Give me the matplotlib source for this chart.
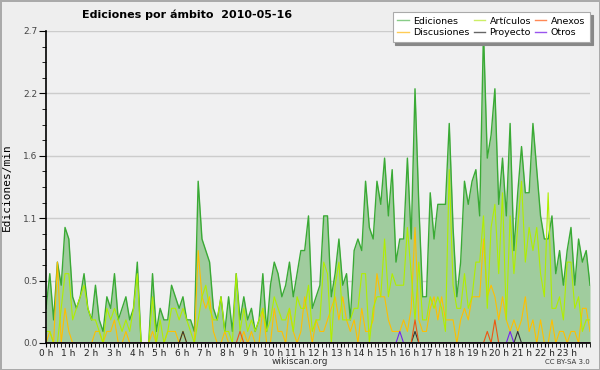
import numpy as np
import matplotlib
matplotlib.use("Agg")
import matplotlib.pyplot as plt
import matplotlib.ticker as mticker

# edits per minute, 10-minute bins (144 per day)
ediciones = [0.3, 0.6, 0.2, 0.7, 0.5, 1.0, 0.9, 0.4, 0.3, 0.4, 0.6, 0.3, 0.2, 0.5, 0.2, 0.1, 0.4, 0.3, 0.6, 0.2, 0.3, 0.4, 0.2, 0.3,
             0.7, 0.0, 0.0, 0.0, 0.6, 0.1, 0.3, 0.2, 0.2, 0.5, 0.4, 0.3, 0.4, 0.2, 0.2, 0.1, 1.4, 0.9, 0.8, 0.7, 0.3, 0.2, 0.4, 0.1,
             0.4, 0.1, 0.6, 0.2, 0.4, 0.2, 0.3, 0.1, 0.2, 0.6, 0.1, 0.5, 0.7, 0.6, 0.4, 0.5, 0.7, 0.4, 0.6, 0.8, 0.8, 1.1, 0.3, 0.4,
             0.5, 1.1, 1.1, 0.4, 0.6, 0.9, 0.5, 0.6, 0.2, 0.8, 0.9, 0.8, 1.4, 1.0, 0.9, 1.4, 1.2, 1.6, 1.1, 1.5, 0.7, 0.9, 0.9, 1.6,
             0.9, 2.2, 1.2, 0.4, 0.4, 1.3, 0.9, 1.2, 1.2, 1.2, 1.9, 1.0, 0.4, 0.7, 1.4, 1.2, 1.4, 1.5, 1.1, 2.7, 1.6, 1.8, 2.2, 1.2,
             1.6, 1.1, 1.9, 0.8, 1.3, 1.7, 1.3, 1.3, 1.9, 1.5, 1.1, 0.9, 0.9, 1.1, 0.6, 0.8, 0.5, 0.8, 1.0, 0.5, 0.9, 0.7, 0.8, 0.5]
articulos = [0.1, 0.1, 0.0, 0.0, 0.3, 0.6, 0.6, 0.2, 0.3, 0.4, 0.5, 0.3, 0.2, 0.2, 0.1, 0.0, 0.3, 0.2, 0.3, 0.2, 0.1, 0.2, 0.1, 0.3,
             0.6, 0.0, 0.0, 0.0, 0.4, 0.0, 0.2, 0.0, 0.1, 0.3, 0.3, 0.2, 0.3, 0.2, 0.1, 0.0, 0.2, 0.4, 0.5, 0.3, 0.2, 0.2, 0.4, 0.1,
             0.1, 0.0, 0.6, 0.1, 0.3, 0.1, 0.2, 0.1, 0.2, 0.3, 0.1, 0.2, 0.4, 0.3, 0.2, 0.2, 0.3, 0.1, 0.4, 0.3, 0.3, 0.5, 0.1, 0.2,
             0.2, 0.7, 0.6, 0.0, 0.5, 0.7, 0.2, 0.2, 0.2, 0.3, 0.3, 0.6, 0.6, 0.0, 0.3, 0.4, 0.4, 0.9, 0.4, 0.6, 0.5, 0.5, 0.5, 1.0,
             0.6, 0.2, 0.7, 0.2, 0.2, 0.4, 0.3, 0.4, 0.3, 0.1, 1.5, 0.5, 0.3, 0.3, 0.6, 0.3, 0.4, 0.7, 0.7, 1.1, 0.3, 1.0, 1.2, 0.6,
             1.3, 0.2, 1.1, 0.6, 1.0, 1.4, 0.7, 1.0, 0.8, 1.0, 0.6, 0.4, 1.3, 0.3, 0.3, 0.4, 0.2, 0.7, 0.7, 0.3, 0.4, 0.1, 0.2, 0.2]
discusiones = [0.0, 0.1, 0.0, 0.7, 0.0, 0.3, 0.1, 0.0, 0.0, 0.0, 0.0, 0.0, 0.0, 0.1, 0.1, 0.0, 0.1, 0.1, 0.2, 0.0, 0.0, 0.1, 0.0, 0.0,
               0.0, 0.0, 0.0, 0.0, 0.1, 0.0, 0.0, 0.0, 0.1, 0.1, 0.1, 0.0, 0.1, 0.0, 0.0, 0.0, 0.8, 0.4, 0.3, 0.4, 0.1, 0.0, 0.0, 0.1,
               0.0, 0.0, 0.0, 0.0, 0.1, 0.0, 0.1, 0.0, 0.0, 0.3, 0.0, 0.0, 0.3, 0.1, 0.1, 0.0, 0.3, 0.1, 0.0, 0.1, 0.4, 0.2, 0.0, 0.2,
               0.1, 0.1, 0.2, 0.3, 0.4, 0.2, 0.4, 0.2, 0.1, 0.2, 0.0, 0.3, 0.1, 0.1, 0.2, 0.6, 0.4, 0.4, 0.2, 0.1, 0.1, 0.1, 0.2, 0.1,
               0.3, 1.0, 0.2, 0.1, 0.1, 0.3, 0.4, 0.2, 0.4, 0.2, 0.2, 0.2, 0.0, 0.2, 0.3, 0.2, 0.4, 0.4, 0.4, 0.9, 0.4, 0.5, 0.4, 0.2,
               0.4, 0.2, 0.1, 0.2, 0.1, 0.2, 0.4, 0.1, 0.2, 0.0, 0.2, 0.0, 0.0, 0.2, 0.0, 0.1, 0.1, 0.0, 0.1, 0.1, 0.0, 0.3, 0.3, 0.1]
# sparse series: bin index -> value
anexos = {51: 0.1, 97: 0.2, 116: 0.1, 118: 0.2}
proyecto = {36: 0.1, 97: 0.1, 124: 0.1}
otros = {93: 0.1, 122: 0.1}

hour_labels = [f"{h} h" for h in range(24)]


def dense(points):
    arr = np.zeros(144)
    for k, v in points.items():
        arr[k] = v
    return arr


x = np.linspace(0, 24, 144)

plt.rcParams['font.family'] = ['DejaVu Sans']
fig = plt.figure(figsize=(6, 3.7), dpi=100, facecolor='#eeeeee',
                 edgecolor='#aaaaaa', linewidth=2)
ax = fig.add_axes([46 / 600, 1 - 343 / 370, 544 / 600, 312 / 370])
ax.set_facecolor('#f0f0f1')

ax.fill_between(x, ediciones, color='#a0cc9e', lw=0)
ax.plot(x, ediciones, color='#3aaa35', lw=1.0, label='Ediciones')
ax.plot(x, discusiones, color='#ffbf00', lw=0.8, label='Discusiones')
ax.plot(x, articulos, color='#b0ee00', lw=0.8, label='Artículos')
ax.plot(x, dense(proyecto), color='#333333', lw=0.8, label='Proyecto')
ax.plot(x, dense(anexos), color='#ee5511', lw=0.8, label='Anexos')
ax.plot(x, dense(otros), color='#7722ee', lw=0.8, label='Otros')

ax.set_xlim(0, 24)
ax.set_ylim(0, 2.7)
ax.set_yticks(np.linspace(0, 2.7, 6))
ax.yaxis.set_major_formatter(mticker.FormatStrFormatter('%.1f'))
ax.yaxis.set_minor_locator(mticker.AutoMinorLocator(4))
ax.set_xticks(range(24))
ax.set_xticklabels(hour_labels)
ax.xaxis.set_minor_locator(mticker.MultipleLocator(1 / 6))
ax.grid(axis='y', color='#cccccc', lw=1)
ax.set_axisbelow(True)
for s in ['top', 'right']:
    ax.spines[s].set_visible(False)
for s in ['left', 'bottom']:
    ax.spines[s].set_linewidth(1.2)
ax.tick_params(axis='y', which='major', length=5, labelsize=6.5, labelcolor='#444444', pad=1)
ax.tick_params(axis='y', which='minor', length=3)
ax.tick_params(axis='x', which='both', length=3, labelsize=6.5, labelcolor='#222222', pad=1)

ax.set_ylabel('Ediciones/min', family='DejaVu Sans Mono', fontsize=8, labelpad=8)
fig.text(187 / 600, 1 - 15 / 370, 'Ediciones por ámbito  2010-05-16', ha='center', va='center',
         fontsize=8, fontweight='bold')
fig.text(300 / 600, 1 - 361 / 370, 'wikiscan.org', ha='center', va='center', fontsize=6.5, color='#333333')
fig.text(590 / 600, 1 - 362 / 370, 'CC BY-SA 3.0', ha='right', va='center', fontsize=5, color='#333333')

leg = ax.legend(loc='upper right', bbox_to_anchor=(590 / 600, 1 - 12 / 370),
                bbox_transform=fig.transFigure, ncol=3, fontsize=6.8, frameon=True,
                fancybox=False, shadow={'color': '#888888', 'alpha': 1},
                handlelength=1.2, handletextpad=0.5, columnspacing=0.4,
                borderpad=0.5, labelspacing=0.25, borderaxespad=0)
leg.get_frame().set_edgecolor('#aaaaaa')
leg.get_frame().set_linewidth(0.8)
# legend swatches are drawn in paler tones in the original
pale = ['#88cc88', '#ffcc55', '#ccee66', '#666666', '#ff8855', '#9955ee']
for line, c in zip(leg.get_lines(), pale):
    line.set_color(c)
    line.set_linewidth(1.0)

fig.savefig('out.png', dpi=100, facecolor=fig.get_facecolor(), edgecolor=fig.get_edgecolor())
